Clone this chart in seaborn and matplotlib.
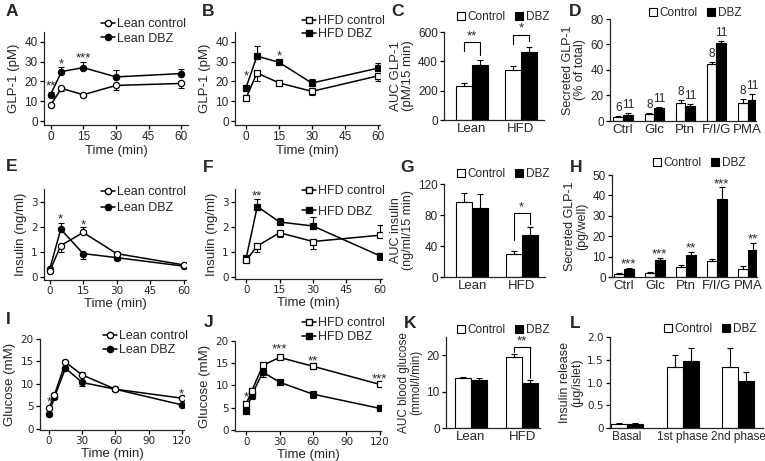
import matplotlib
matplotlib.use("Agg")
import matplotlib.pyplot as plt
from matplotlib.lines import Line2D
from matplotlib.patches import Patch
import numpy as np
import pandas as pd
import seaborn as sns

# ---- data ----
time_short = [0, 5, 15, 30, 60]
time_long = [0, 5, 15, 30, 60, 120]

# A: GLP-1 lean
lean_ctrl_glp = [8, 16.5, 13.3, 18, 19]
lean_ctrl_glp_err = [1, 1.5, 0.8, 2.5, 2.3]
lean_dbz_glp = [13.3, 25, 27, 22.3, 24]
lean_dbz_glp_err = [1.5, 2.5, 3, 3.5, 2.5]
stars_a = [(0, 19.5, "**"), (5, 30.5, "*"), (15, 33.5, "***")]

# B: GLP-1 HFD
hfd_ctrl_glp = [11.5, 24.3, 19.3, 15, 22.8]
hfd_ctrl_glp_err = [1, 4, 1, 2, 2.5]
hfd_dbz_glp = [16.8, 32.8, 29.7, 19.2, 26.7]
hfd_dbz_glp_err = [1, 5, 1, 2, 2.5]
stars_b = [(0, 24.5, "*"), (15, 34.5, "*")]

# C: AUC GLP-1
groups = ["Lean", "HFD"]
auc_glp_ctrl = [230, 338]
auc_glp_ctrl_err = [25, 30]
auc_glp_dbz = [378, 465]
auc_glp_dbz_err = [30, 35]

# D: secreted GLP-1 (% of total)
stimuli = ["Ctrl", "Glc", "Ptn", "F/I/G", "PMA"]
sec_pct_ctrl = [3, 5.5, 14.5, 44.5, 14.5]
sec_pct_ctrl_err = [1, 0.7, 2, 2, 2.5]
sec_pct_dbz = [5, 10, 12, 61, 16.5]
sec_pct_dbz_err = [1, 0.8, 1, 1.5, 4.5]
n_ctrl = ["6", "8", "8", "8", "8"]
n_dbz = ["11", "11", "11", "11", "11"]

# E: insulin lean
lean_ctrl_ins = [0.22, 1.25, 1.77, 0.93, 0.48]
lean_ctrl_ins_err = [0.05, 0.25, 0.2, 0.08, 0.05]
lean_dbz_ins = [0.3, 1.9, 0.93, 0.77, 0.43]
lean_dbz_ins_err = [0.05, 0.25, 0.2, 0.08, 0.05]
stars_e = [(5, 2.45, "*"), (15, 2.2, "*")]

# F: insulin HFD
hfd_ctrl_ins = [0.65, 1.22, 1.75, 1.4, 1.65]
hfd_ctrl_ins_err = [0.07, 0.25, 0.15, 0.3, 0.4]
hfd_dbz_ins = [0.73, 2.8, 2.18, 2.02, 0.83]
hfd_dbz_ins_err = [0.07, 0.3, 0.15, 0.35, 0.15]
stars_f = [(5, 3.36, "**")]

# G: AUC insulin
auc_ins_ctrl = [97, 30]
auc_ins_ctrl_err = [12, 3]
auc_ins_dbz = [89, 54]
auc_ins_dbz_err = [18, 10]

# H: secreted GLP-1 (pg/well)
sec_pg_ctrl = [1.5, 2, 5, 7.7, 4]
sec_pg_ctrl_err = [0.3, 0.4, 1, 1, 1.5]
sec_pg_dbz = [4, 8.5, 11, 38, 13.3]
sec_pg_dbz_err = [0.5, 1, 1.5, 6, 3.5]
stars_h = ["***", "***", "**", "***", "**"]

# I: glucose lean
lean_ctrl_glc = [4.5, 7.5, 14.8, 12, 8.8, 6.8]
lean_ctrl_glc_err = [0.4, 0.4, 0.5, 0.6, 0.4, 0.4]
lean_dbz_glc = [3.3, 7, 13.5, 10.3, 8.8, 5.3]
lean_dbz_glc_err = [0.4, 0.4, 0.5, 0.8, 0.4, 0.3]
stars_i = [(0, 6.8, "*"), (120, 8.5, "*")]

# J: glucose HFD
hfd_ctrl_glc = [5.8, 8.7, 14.5, 16.3, 14.3, 10.2]
hfd_ctrl_glc_err = [0.6, 0.8, 0.6, 0.5, 0.7, 0.6]
hfd_dbz_glc = [4.2, 7.8, 13, 10.7, 8, 4.8]
hfd_dbz_glc_err = [0.5, 0.8, 1.2, 0.5, 0.8, 0.3]
stars_j = [(0, 8.2, "*"), (30, 19, "***"), (60, 16.3, "**"), (120, 12.3, "***")]

# K: AUC glucose
auc_glc_ctrl = [13.8, 19.5]
auc_glc_ctrl_err = [0.3, 0.9]
auc_glc_dbz = [13.1, 12.5]
auc_glc_dbz_err = [0.7, 0.7]

# L: islet insulin release
phases = ["Basal", "1st phase", "2nd phase"]
islet_ctrl = [0.08, 1.33, 1.35]
islet_ctrl_err = [0.04, 0.28, 0.4]
islet_dbz = [0.09, 1.48, 1.03]
islet_dbz_err = [0.03, 0.27, 0.2]

# ---- style ----
sns.set_style("ticks")
plt.rcParams["font.family"] = ["Liberation Sans", "DejaVu Sans"]
plt.rcParams["axes.linewidth"] = 0.9

W, H = 765, 461
fig = plt.figure(figsize=(W / 100, H / 100), dpi=100)


def add_ax(l, t, r, b):
    # axes box given in pixels of the final image
    return fig.add_axes([l / W, 1 - b / H, (r - l) / W, (b - t) / H])


def fig_xy(x, y):
    return (x / W, 1 - y / H)


def style(ax, tick_font="Liberation Sans", tick_size=8.5):
    sns.despine(ax=ax)
    ax.tick_params(length=3, width=0.9, labelsize=tick_size, pad=1.5, color="black")
    for lab in ax.get_xticklabels() + ax.get_yticklabels():
        lab.set_family(tick_font)


def panel_letter(x, y, s):
    fig.text(x / W, 1 - y / H, s, fontsize=12.5, fontweight="heavy", va="center", ha="left")


def line_panel(ax, t, ctrl, ctrl_err, dbz, dbz_err, labels, marker, stars,
               xlim, ylim, xticks, yticks, ylabel, leg_xy, leg_space, tick_font="Liberation Sans"):
    ctrl = np.array(ctrl, float)
    dbz = np.array(dbz, float)
    ce = np.array(ctrl_err, float)
    de = np.array(dbz_err, float)
    down = ctrl < dbz
    ax.errorbar(t, ctrl, yerr=[np.where(down, ce, 0), np.where(down, 0, ce)], fmt="none",
                ecolor="black", elinewidth=0.8, capsize=2, capthick=0.8, zorder=1)
    ax.errorbar(t, dbz, yerr=[np.where(down, 0, de), np.where(down, de, 0)], fmt="none",
                ecolor="black", elinewidth=0.8, capsize=2, capthick=0.8, zorder=1)
    sns.lineplot(x=t, y=dbz, ax=ax, color="black", linewidth=1.1, marker=marker,
                 markersize=4.5, markerfacecolor="black", markeredgecolor="black",
                 markeredgewidth=0.9, zorder=3)
    sns.lineplot(x=t, y=ctrl, ax=ax, color="black", linewidth=1.1, marker=marker,
                 markersize=4.5, markerfacecolor="white", markeredgecolor="black",
                 markeredgewidth=0.9, zorder=4)
    for x, y, s in stars:
        ax.annotate(s, (x, y), xytext=(0, -5), textcoords="offset points", ha="center",
                    va="baseline", fontsize=9.5, annotation_clip=False)
    ax.set_xlim(xlim)
    ax.set_ylim(ylim)
    ax.set_xticks(xticks)
    ax.set_yticks(yticks)
    ax.set_xlabel("Time (min)", fontsize=9.5, labelpad=1)
    ax.set_ylabel(ylabel, fontsize=9.5, labelpad=3)
    handles = [Line2D([], [], color="black", lw=1.1, marker=marker, ms=4.5, mfc="white", mec="black"),
               Line2D([], [], color="black", lw=1.1, marker=marker, ms=4.5, mfc="black", mec="black")]
    fig.legend(handles, labels, loc="upper left", bbox_to_anchor=fig_xy(*leg_xy), frameon=False,
               fontsize=9, handlelength=1.1, handletextpad=0.2, labelspacing=leg_space, borderpad=0,
               borderaxespad=0)
    style(ax, tick_font, 8.5 if tick_font == "Liberation Sans" else 7.5)


def bar_panel(ax, cats, ctrl, ctrl_err, dbz, dbz_err, width, xlim, ylim, yticks, ylabel, leg_xy,
              cat_size=9, label_size=9):
    df = pd.DataFrame({"cat": cats * 2,
                       "group": ["Control"] * len(cats) + ["DBZ"] * len(cats),
                       "value": list(ctrl) + list(dbz)})
    sns.barplot(data=df, x="cat", y="value", hue="group", palette={"Control": "white", "DBZ": "black"},
                edgecolor="black", linewidth=0.8, width=width, errorbar=None, legend=False, ax=ax)
    centers = []
    for cont, err in zip(ax.containers, [ctrl_err, dbz_err]):
        xs = [p.get_x() + p.get_width() / 2 for p in cont]
        ys = [p.get_height() for p in cont]
        ax.errorbar(xs, ys, yerr=[np.zeros(len(err)), err], fmt="none", ecolor="black",
                    elinewidth=0.8, capsize=2.5, capthick=0.8, zorder=3)
        centers.append(xs)
    ax.set_xlim(xlim)
    ax.set_ylim(ylim)
    ax.set_yticks(yticks)
    ax.set_xlabel("")
    ax.set_ylabel(ylabel, fontsize=label_size, labelpad=3, linespacing=1.0)
    style(ax)
    ax.tick_params(axis="x", length=0, labelsize=cat_size, pad=2)
    handles = [Patch(facecolor="white", edgecolor="black", lw=0.8),
               Patch(facecolor="black", edgecolor="black", lw=0.8)]
    fig.legend(handles, ["Control", "DBZ"], loc="upper left", bbox_to_anchor=fig_xy(*leg_xy),
               frameon=False, fontsize=8.5, ncol=2, handlelength=0.65, handleheight=0.65,
               handletextpad=0.25, columnspacing=0.8, borderpad=0, borderaxespad=0)
    return centers


def bracket(ax, x0, x1, y, y0, y1, s):
    ax.plot([x0, x0, x1, x1], [y0, y, y, y1], color="black", lw=0.8, clip_on=False)
    ax.annotate(s, ((x0 + x1) / 2, y), xytext=(0, 0), textcoords="offset points", ha="center",
                va="bottom", fontsize=9.5, annotation_clip=False)


# ---- A ----
ax = add_ax(44, 32, 188, 125)
line_panel(ax, time_short, lean_ctrl_glp, lean_ctrl_glp_err, lean_dbz_glp, lean_dbz_glp_err,
           ["Lean control", "Lean DBZ"], "o", stars_a, (-3, 63), (-2, 45),
           [0, 15, 30, 45, 60], [0, 10, 20, 30, 40], "GLP-1 (pM)", (101, 18), 0.2)
panel_letter(6, 11, "A")

# ---- B ----
ax = add_ax(235, 32, 380, 125)
line_panel(ax, time_short, hfd_ctrl_glp, hfd_ctrl_glp_err, hfd_dbz_glp, hfd_dbz_glp_err,
           ["HFD control", "HFD DBZ"], "s", stars_b, (-5, 61), (-2, 45),
           [0, 15, 30, 45, 60], [0, 10, 20, 30, 40], "GLP-1 (pM)", (302, 15), 0.1)
panel_letter(202, 11, "B")

# ---- C ----
ax = add_ax(444, 32, 544, 120)
cx = bar_panel(ax, groups, auc_glp_ctrl, auc_glp_ctrl_err, auc_glp_dbz, auc_glp_dbz_err, 0.65,
               (-0.57, 1.47), (0, 600), [0, 200, 400, 600], "AUC GLP-1\n(pM/15 min)", (457, 11),
               cat_size=9.5, label_size=9.5)
bracket(ax, cx[0][0], cx[1][0], 530, 470, 440, "**")
bracket(ax, cx[0][1], cx[1][1], 580, 520, 540, "*")
panel_letter(391, 11, "C")

# ---- D ----
ax = add_ax(610, 19, 756, 121)
dx = bar_panel(ax, stimuli, sec_pct_ctrl, sec_pct_ctrl_err, sec_pct_dbz, sec_pct_dbz_err, 0.62,
               (-0.42, 4.27), (0, 80), [0, 20, 40, 60, 80], "Secreted GLP-1\n(% of total)", (649, 7),
               cat_size=9.5)
for xs, vals, errs, ns in [(dx[0], sec_pct_ctrl, sec_pct_ctrl_err, n_ctrl),
                           (dx[1], sec_pct_dbz, sec_pct_dbz_err, n_dbz)]:
    for x, v, e, n in zip(xs, vals, errs, ns):
        ax.annotate(n, (x, v + e), xytext=(0, 1.5), textcoords="offset points", ha="center",
                    va="bottom", fontsize=8.5, annotation_clip=False)
panel_letter(569, 11, "D")

# ---- E ----
ax = add_ax(44, 189, 186, 280)
line_panel(ax, time_short, lean_ctrl_ins, lean_ctrl_ins_err, lean_dbz_ins, lean_dbz_ins_err,
           ["Lean control", "Lean DBZ"], "o", stars_e, (-2.5, 61), (-0.12, 3.5),
           [0, 15, 30, 45, 60], [0, 1, 2, 3], "Insulin (ng/ml)", (101, 186), 0.35, "DejaVu Sans")
panel_letter(6, 166, "E")

# ---- F ----
ax = add_ax(235, 189, 382, 279)
line_panel(ax, time_short, hfd_ctrl_ins, hfd_ctrl_ins_err, hfd_dbz_ins, hfd_dbz_ins_err,
           ["HFD control", "HFD DBZ"], "s", stars_f, (-5, 61), (-0.1, 3.5),
           [0, 15, 30, 45, 60], [0, 1, 2, 3], "Insulin (ng/ml)", (302, 185), 0.7, "DejaVu Sans")
panel_letter(203, 167, "F")

# ---- G ----
ax = add_ax(444, 184, 545, 277)
gx = bar_panel(ax, groups, auc_ins_ctrl, auc_ins_ctrl_err, auc_ins_dbz, auc_ins_dbz_err, 0.65,
               (-0.57, 1.47), (0, 120), [0, 40, 80, 120], "AUC insulin\n(ng/ml/15 min)", (457, 168),
               cat_size=9.5)
bracket(ax, gx[0][1], gx[1][1], 82, 48, 68, "*")
panel_letter(400, 167, "G")

# ---- H ----
ax = add_ax(612, 175, 757, 277)
hx = bar_panel(ax, stimuli, sec_pg_ctrl, sec_pg_ctrl_err, sec_pg_dbz, sec_pg_dbz_err, 0.62,
               (-0.39, 4.29), (0, 50), [0, 10, 20, 30, 40, 50], "Secreted GLP-1\n(pg/well)", (653, 157),
               cat_size=9.5)
for x, v, e, s in zip(hx[1], sec_pg_dbz, sec_pg_dbz_err, stars_h):
    ax.annotate(s, (x, v + e), xytext=(0, -2), textcoords="offset points", ha="center",
                va="bottom", fontsize=9.5, annotation_clip=False)
panel_letter(570, 168, "H")

# ---- I ----
ax = add_ax(40, 339, 184, 430)
line_panel(ax, time_long, lean_ctrl_glc, lean_ctrl_glc_err, lean_dbz_glc, lean_dbz_glc_err,
           ["Lean control", "Lean DBZ"], "o", stars_i, (-8, 122), (-0.3, 20),
           [0, 30, 60, 90, 120], [0, 5, 10, 15, 20], "Glucose (mM)", (103, 330), 0.15, "DejaVu Sans")
panel_letter(6, 320, "I")

# ---- J ----
ax = add_ax(235, 341, 381, 431)
line_panel(ax, time_long, hfd_ctrl_glc, hfd_ctrl_glc_err, hfd_dbz_glc, hfd_dbz_glc_err,
           ["HFD control", "HFD DBZ"], "s", stars_j, (-10, 121), (-0.3, 20),
           [0, 30, 60, 90, 120], [0, 5, 10, 15, 20], "Glucose (mM)", (302, 317), 0.15, "DejaVu Sans")
panel_letter(204, 322, "J")

# ---- K ----
ax = add_ax(446, 337, 540, 428)
kx = bar_panel(ax, groups, auc_glc_ctrl, auc_glc_ctrl_err, auc_glc_dbz, auc_glc_dbz_err, 0.64,
               (-0.49, 1.35), (0, 25), [0, 10, 20], "AUC blood glucose\n(mmol/l/min)", (457, 324),
               cat_size=9.5, label_size=8.5)
bracket(ax, kx[0][1], kx[1][1], 22.2, 20.8, 13.7, "**")
panel_letter(404, 323, "K")

# ---- L ----
ax = add_ax(610, 337, 763, 428)
bar_panel(ax, phases, islet_ctrl, islet_ctrl_err, islet_dbz, islet_dbz_err, 0.58,
          (-0.31, 2.45), (0, 2.0), [0, 0.5, 1.0, 1.5, 2.0], "Insulin release\n(\u03bcg/islet)", (664, 323),
          cat_size=8.5)
ax.set_yticklabels(["0", "0.5", "1.0", "1.5", "2.0"], fontfamily="DejaVu Sans", fontsize=7.5)
panel_letter(570, 323, "L")

fig.savefig("out.png", dpi=100)
